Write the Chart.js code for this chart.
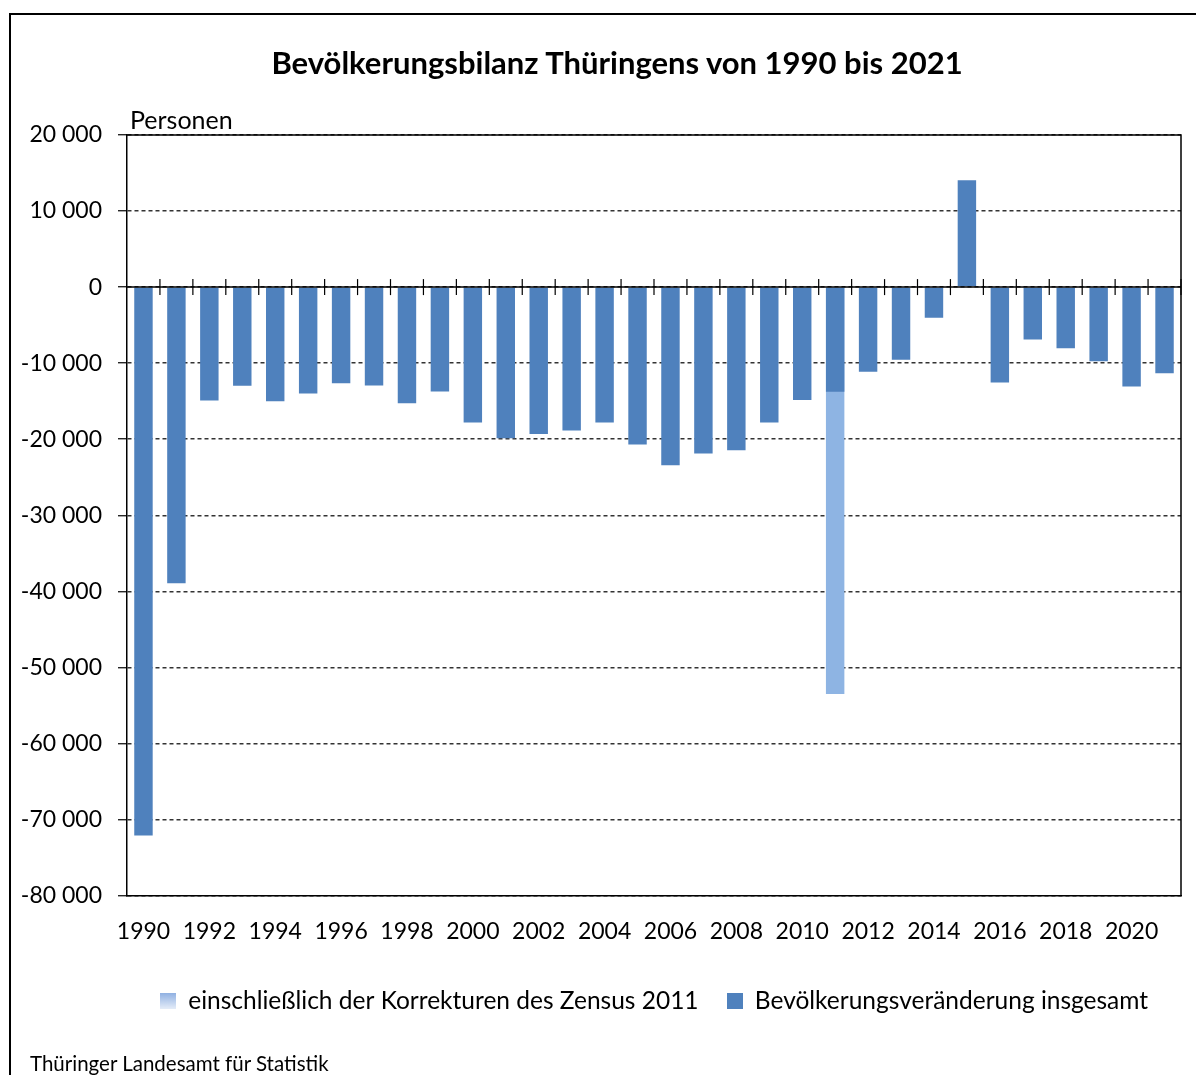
<!DOCTYPE html>
<html><head><meta charset="utf-8">
<script src="https://cdn.jsdelivr.net/npm/chart.js@4"></script>
<style>
html,body{margin:0;padding:0;background:#fff;overflow:hidden;width:1196px;height:1075px;font-family:Lato,sans-serif;color:#000;}
#frame{position:absolute;left:9px;top:13px;width:1300px;height:1200px;border-left:2px solid #000;border-top:2px solid #000;}
#title{position:absolute;left:117px;width:1000px;top:43px;text-align:center;font-weight:bold;font-size:31px;line-height:38px;}
#unit{position:absolute;left:130px;top:104px;font-size:25px;line-height:30px;}
#source{position:absolute;left:30px;top:1051px;font-size:20.5px;line-height:25px;}
#wrap{position:absolute;left:0;top:0;width:1196px;height:1075px;}
</style>
</head><body>
<div id="frame"></div>
<div id="wrap"><canvas id="c" width="1196" height="1075"></canvas></div>
<div id="title">Bevölkerungsbilanz Thüringens von 1990 bis 2021</div>
<div id="unit">Personen</div>
<div id="source">Thüringer Landesamt für Statistik</div>
<script>
const years = ['1990','1991','1992','1993','1994','1995','1996','1997','1998','1999','2000','2001','2002','2003','2004','2005','2006','2007','2008','2009','2010','2011','2012','2013','2014','2015','2016','2017','2018','2019','2020','2021'];
const totalChange = [-72100,-38950,-14900,-12980,-15000,-13990,-12630,-12940,-15260,-13720,-17800,-19870,-19300,-18860,-17800,-20700,-23420,-21880,-21450,-17800,-14830,-13770,-11140,-9560,-4040,14040,-12540,-6890,-8030,-9740,-13070,-11320];
const zensusCorrection = [null,null,null,null,null,null,null,null,null,null,null,null,null,null,null,null,null,null,null,null,null,-53510,null,null,null,null,null,null,null,null,null,null];
const seriesLabels = ['einschließlich der Korrekturen des Zensus 2011','Bevölkerungsveränderung insgesamt'];
const yMin = -80000, yMax = 20000, yStep = 10000;

function legendIcon(top, bottom){
  const c = document.createElement('canvas'); c.width = 16; c.height = 16;
  const g = c.getContext('2d'); const gr = g.createLinearGradient(0,0,0,16);
  gr.addColorStop(0, top); gr.addColorStop(1, bottom);
  g.fillStyle = gr; g.fillRect(0,0,16,16); return c;
}
const lightIcon = legendIcon('#8fb0e2','#e4ecf8');
const darkIcon = legendIcon('#4f81bd','#4f81bd');

function fmt(v){
  const s = Math.abs(v).toString().replace(/\B(?=(\d{3})+(?!\d))/g,' ');
  return (v < 0 ? '-' : '') + s;
}

const boxPlugin = {
  id: 'boxPlugin',
  afterDatasetsDraw(chart){
    const {ctx, chartArea:a, scales:{x, y}} = chart;
    ctx.save();
    ctx.strokeStyle = '#000'; ctx.lineWidth = 1.5; ctx.setLineDash([]);
    const y0 = y.getPixelForValue(0);
    ctx.beginPath(); ctx.moveTo(a.left, y0); ctx.lineTo(a.right, y0); ctx.stroke();
    ctx.lineWidth = 1.2;
    for (let i = 0; i < years.length; i++){
      const px = (i < years.length - 1) ? (x.getPixelForValue(i) + x.getPixelForValue(i+1)) / 2 : a.right;
      ctx.beginPath(); ctx.moveTo(px, y0 - 8); ctx.lineTo(px, y0 + 8); ctx.stroke();
    }
    ctx.lineWidth = 1.5;
    ctx.beginPath(); ctx.moveTo(a.left, a.top); ctx.lineTo(a.right, a.top); ctx.lineTo(a.right, a.bottom); ctx.stroke();
    ctx.restore();
  }
};

new Chart(document.getElementById('c'), {
  type: 'bar',
  data: {
    labels: years,
    datasets: [
      {label: seriesLabels[0], data: zensusCorrection, backgroundColor: '#8eb4e3', order: 2, pointStyle: lightIcon,
       categoryPercentage: 1, barPercentage: 0.56, grouped: false},
      {label: seriesLabels[1], data: totalChange, backgroundColor: '#4f81bd', order: 1, pointStyle: darkIcon,
       categoryPercentage: 1, barPercentage: 0.56, grouped: false}
    ]
  },
  plugins: [boxPlugin],
  options: {
    responsive: false, animation: false,
    layout: {padding: {left: 0, right: 15, top: 135, bottom: 52}},
    scales: {
      x: {
        grid: {display: false, drawTicks: false},
        border: {display: true, color: '#000', width: 1.5},
        ticks: {autoSkip: false, maxRotation: 0, padding: 22, color: '#000',
          font: {family: 'Lato', size: 23},
          callback: function(v, i){ return i % 2 === 0 ? years[i] : ''; }},
        afterFit: s => { s.height = 65; }
      },
      y: {
        min: yMin, max: yMax,
        afterFit: s => { s.width = 127; },
        grid: {color: '#333', lineWidth: 1.5, drawTicks: true, tickLength: 9, tickColor: '#000', tickBorderDash: [], tickWidth: 1.2},
        border: {display: true, color: '#000', width: 1.5, dash: [4, 3]},
        ticks: {stepSize: yStep, padding: 16, color: '#000', font: {family: 'Lato', size: 23}, callback: v => fmt(v)}
      }
    },
    plugins: {
      title: {display: false},
      tooltip: {enabled: false},
      legend: {
        position: 'bottom', fullSize: false,
        labels: {usePointStyle: true, boxWidth: 16, boxHeight: 16, padding: 28, color: '#000',
          font: {family: 'Lato', size: 24.5},
          sort: (a, b) => a.datasetIndex - b.datasetIndex}
      }
    }
  }
});
</script>
</body></html>
